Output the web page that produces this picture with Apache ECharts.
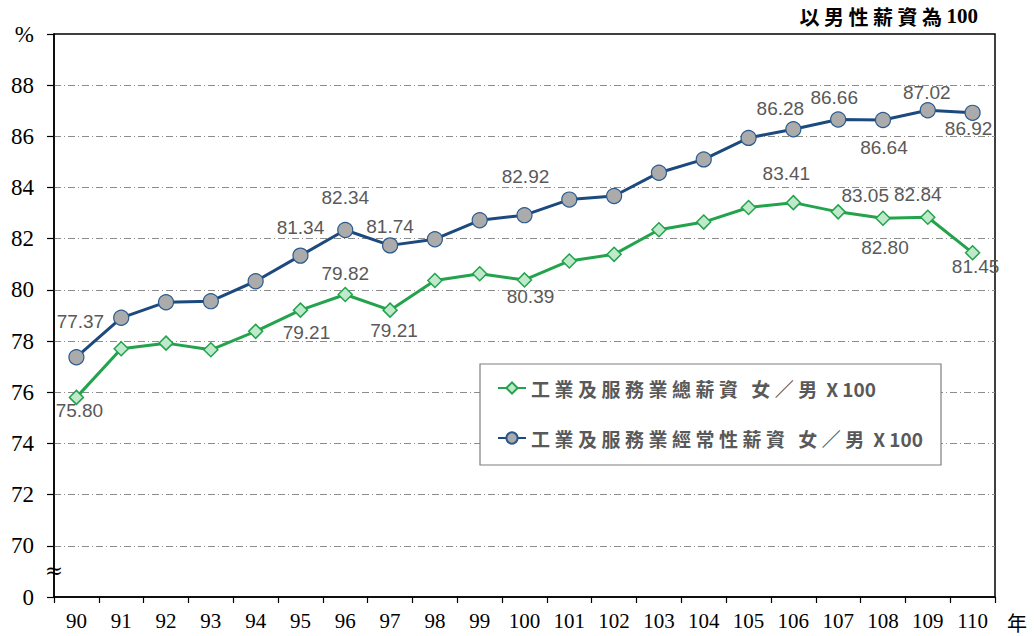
<!DOCTYPE html>
<html>
<head>
<meta charset="utf-8">
<script src="https://cdn.jsdelivr.net/npm/echarts@6/dist/echarts.min.js"></script>
<style>
html,body{margin:0;padding:0;background:#fff;}
#chart{width:1034px;height:636px;}
</style>
</head>
<body>
<div id="chart"></div>
<script>
// ---- data ----
const years = ['90','91','92','93','94','95','96','97','98','99','100','101','102','103','104','105','106','107','108','109','110'];
const totalPayRatio = [75.80, 77.70, 77.92, 77.66, 78.38, 79.21, 79.82, 79.21, 80.37, 80.63, 80.39, 81.13, 81.39, 82.35, 82.65, 83.22, 83.41, 83.05, 82.80, 82.84, 81.45];
const regularPayRatio = [77.37, 78.91, 79.52, 79.56, 80.34, 81.34, 82.34, 81.74, 81.98, 82.72, 82.92, 83.53, 83.67, 84.58, 85.10, 85.94, 86.28, 86.66, 86.64, 87.02, 86.92];
const seriesNames = ['工業及服務業總薪資 女／男 X 100', '工業及服務業經常性薪資 女／男 X 100'];
const unitNote = '以男性薪資為100';

// label placement (offset from point centre) for the labelled points
const totalLabelOffsets = {0:[3,13],5:[6,22],6:[0,-21],7:[4,20],10:[6,17],16:[-7,-29],17:[27,-16],18:[2,29],19:[-10,-23],20:[3,14]};
const regularLabelOffsets = {0:[4,-36],5:[0,-28],6:[0,-33],7:[0,-19],10:[1,-39],16:[-13,-21],17:[-4,-22],18:[1,28],19:[-1,-18],20:[-4,16]};

function withLabels(vals, offs){
  return vals.map((v,i)=> offs[i] ? {value:v, label:{show:true, position:'inside', offset:offs[i]}} : v);
}

const chart = echarts.init(document.getElementById('chart'), null, {renderer:'svg'});
const splitColors = ['rgba(0,0,0,0)'].concat(Array(10).fill('#8c8c8c')).concat(['rgba(0,0,0,0)']);
const labelStyle = {
  show:false, color:'#595959', fontFamily:'Liberation Sans', fontSize:19,
  formatter: p => p.value.toFixed(2), align:'center', verticalAlign:'middle'
};

chart.setOption({
  animation:false,
  backgroundColor:'#fff',
  grid:{left:54, right:39, top:34, bottom:39, show:true, borderColor:'#000', borderWidth:1.5, backgroundColor:'rgba(0,0,0,0)'},
  xAxis:{
    type:'category', data:years, boundaryGap:true,
    axisLine:{lineStyle:{color:'#000', width:1.5}},
    axisTick:{show:true, length:6, lineStyle:{color:'#000', width:1.2}},
    axisLabel:{color:'#000', fontFamily:'Liberation Serif', fontSize:21, margin:13},
    splitLine:{show:false}
  },
  yAxis:{
    type:'value', min:68, max:90, interval:2,
    axisLine:{show:true, lineStyle:{color:'#000', width:1.5}},
    axisTick:{show:true, length:7, lineStyle:{color:'#000', width:1.2}},
    axisLabel:{color:'#000', fontFamily:'Liberation Serif', fontSize:23, margin:20,
      formatter: v => v === 68 ? '0' : (v === 90 ? '%' : String(v))},
    splitLine:{show:true, lineStyle:{color:splitColors, width:1, type:[7,3,1,3]}}
  },
  legend:{
    orient:'vertical', left:497, top:378, itemGap:30, itemWidth:28, itemHeight:14,
    padding:0, z:5,
    textStyle:{color:'#595959', fontFamily:'Noto Sans CJK TC', fontWeight:'bold', fontSize:19, lineHeight:20},
    data:seriesNames
  },
  graphic:[
    {type:'rect', z:3, shape:{x:480, y:364, width:461, height:101}, style:{fill:'#fff', stroke:'#7f7f7f', lineWidth:1.2}},
    {type:'text', z:5, x:978, y:16, style:{text:unitNote, fill:'#000', font:'bold 20px "Noto Sans CJK TC"', textAlign:'right', textVerticalAlign:'middle'}},
    {type:'text', z:5, x:1017, y:622, style:{text:'年', fill:'#000', font:'20px "Noto Sans CJK TC"', textAlign:'center', textVerticalAlign:'middle'}},
    {type:'text', z:5, x:54, y:570, style:{text:'≈', fill:'#000', font:'22px "DejaVu Serif"', textAlign:'center', textVerticalAlign:'middle'}}
  ],
  series:[
    {
      name:seriesNames[0], type:'line', data:withLabels(totalPayRatio, totalLabelOffsets),
      symbol:'diamond', symbolSize:14,
      lineStyle:{color:'#22a34c', width:3},
      itemStyle:{color:'#bfe9cb', borderColor:'#22a34c', borderWidth:1.5},
      label:labelStyle, z:3
    },
    {
      name:seriesNames[1], type:'line', data:withLabels(regularPayRatio, regularLabelOffsets),
      symbol:'circle', symbolSize:15,
      lineStyle:{color:'#1c4a7e', width:3},
      itemStyle:{color:'#ababab', borderColor:'#2a5a8e', borderWidth:1.2},
      label:labelStyle, z:3
    }
  ]
});

// widen the letter spacing of the Chinese part of the legend / note texts (as in the reference)
const SVGNS = 'http://www.w3.org/2000/svg';
function spaceCJK(){
  document.querySelectorAll('#chart text').forEach(t => {
    const s = t.textContent;
    if (t.dataset.spaced === '1') return;
    let cut = -1, latinFont = null;
    if (seriesNames.indexOf(s) >= 0) cut = s.lastIndexOf('男') + 1;
    else if (s === unitNote) { cut = s.indexOf('100'); latinFont = '"Liberation Serif"'; }
    if (cut < 0) return;
    const a = document.createElementNS(SVGNS, 'tspan');
    a.textContent = s.slice(0, cut);
    a.setAttribute('style', 'letter-spacing:4.5px');
    const b = document.createElementNS(SVGNS, 'tspan');
    b.textContent = s.slice(cut);
    b.setAttribute('style', 'letter-spacing:0px' + (latinFont ? ';font-family:' + latinFont + ';font-size:21px' : ''));
    t.textContent = '';
    t.appendChild(a); t.appendChild(b);
    t.dataset.spaced = '1';
  });
}
chart.on('finished', spaceCJK);
spaceCJK();
setTimeout(spaceCJK, 50);
</script>
</body>
</html>
